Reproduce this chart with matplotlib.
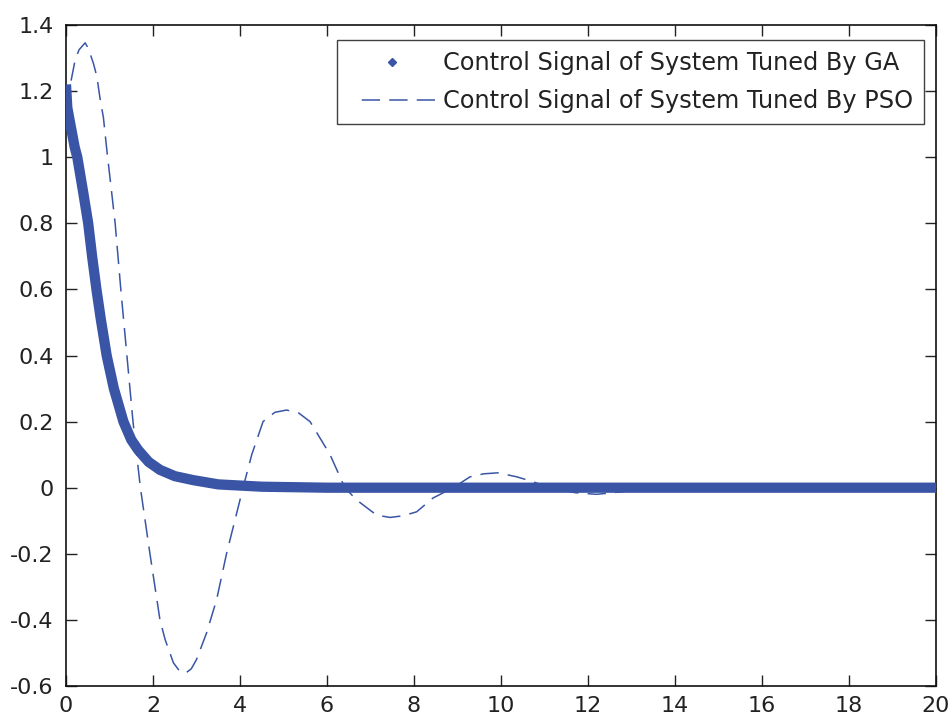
import matplotlib
matplotlib.use("Agg")
import matplotlib.pyplot as plt
from matplotlib.lines import Line2D

# GA-tuned control signal
ga_t = [0.0, 0.03, 0.1, 0.2, 0.26, 0.4, 0.51, 0.6, 0.70, 0.8, 0.935, 1.1, 1.32,
        1.5, 1.66, 1.9, 2.16, 2.5, 2.92, 3.5, 4.5, 6.0, 20.0]
ga_u = [1.22, 1.15, 1.10, 1.03, 1.00, 0.89, 0.80, 0.70, 0.60, 0.51, 0.40, 0.30, 0.20,
        0.145, 0.114, 0.078, 0.054, 0.035, 0.023, 0.010, 0.003, 0.0, 0.0]

# PSO-tuned control signal
pso_t = [0.0, 0.11, 0.21, 0.30, 0.44, 0.51, 0.63, 0.71, 0.78, 0.86, 0.94, 1.13, 1.26,
         1.40, 1.54, 1.71, 1.93, 2.16, 2.28, 2.47, 2.6, 2.74, 2.88, 3.0, 3.23, 3.46, 3.69,
         4.07, 4.27, 4.53, 4.8, 5.07, 5.35, 5.61, 6.07, 6.41, 6.68, 7.14, 7.45, 7.75, 8.06,
         8.44, 8.9, 9.29, 9.6, 9.93, 10.36, 10.74, 11.1, 11.7, 12.2, 12.8, 13.5, 14.5, 20.0]
pso_u = [1.15, 1.227, 1.294, 1.325, 1.346, 1.33, 1.284, 1.244, 1.18, 1.12, 1.02, 0.80, 0.60,
         0.40, 0.20, 0.0, -0.20, -0.40, -0.46, -0.53, -0.553, -0.562, -0.548, -0.52, -0.44,
         -0.34, -0.20, 0.0, 0.10, 0.20, 0.228, 0.235, 0.226, 0.20, 0.10, 0.0, -0.037, -0.083,
         -0.09, -0.085, -0.073, -0.031, 0.0, 0.033, 0.042, 0.045, 0.033, 0.018, 0.0, -0.015,
         -0.02, -0.012, 0.0, 0.0, 0.0]

xticks = list(range(0, 21, 2))
yticks = [-0.6, -0.4, -0.2, 0, 0.2, 0.4, 0.6, 0.8, 1, 1.2, 1.4]
ytick_labels = ["-0.6", "-0.4", "-0.2", "0", "0.2", "0.4", "0.6", "0.8", "1", "1.2", "1.4"]

labels = ["Control Signal of System Tuned By GA", "Control Signal of System Tuned By PSO"]

blue = "#3a55a6"

plt.rcParams['font.family'] = ['DejaVu Sans']

fig = plt.figure(figsize=(9.49, 7.18), dpi=100)
ax = fig.add_axes([66/949, 1-686/718, (936-66)/949, (686-25)/718])

ax.plot(ga_t, ga_u, color=blue, lw=7.4, solid_capstyle='butt', solid_joinstyle='round', zorder=3)
ax.plot(pso_t, pso_u, color=blue, lw=1.1, dashes=(12, 6), zorder=2)

ax.set_xlim(0, 20)
ax.set_ylim(-0.6, 1.4)
ax.set_xticks(xticks)
ax.set_xticklabels([str(v) for v in xticks])
ax.set_yticks(yticks)
ax.set_yticklabels(ytick_labels)
ax.tick_params(direction='in', length=8, width=1, top=True, right=True,
               labelsize=16, colors='#222222')
ax.tick_params(axis='x', pad=7)
ax.tick_params(axis='y', pad=9)
for s in ax.spines.values():
    s.set_linewidth(1.2)
    s.set_color('#111111')

handles = [Line2D([], [], color=blue, marker='D', markersize=4, linestyle='None'),
           Line2D([], [], color=blue, lw=1.1,
                  linestyle=(0, (0.001, 9, 12, 6, 12, 6, 12, 60)))]
leg = ax.legend(handles, labels, loc='upper right', bbox_to_anchor=(0.9862, 0.9773),
                borderaxespad=0, fontsize=17.25, frameon=True,
                fancybox=False, edgecolor='#111111', handlelength=3.65,
                handletextpad=0.3, borderpad=0.47, labelspacing=0.57)
for t in leg.get_texts():
    t.set_color('#222222')
leg.get_frame().set_linewidth(1.0)

fig.savefig("out.png", dpi=100)
